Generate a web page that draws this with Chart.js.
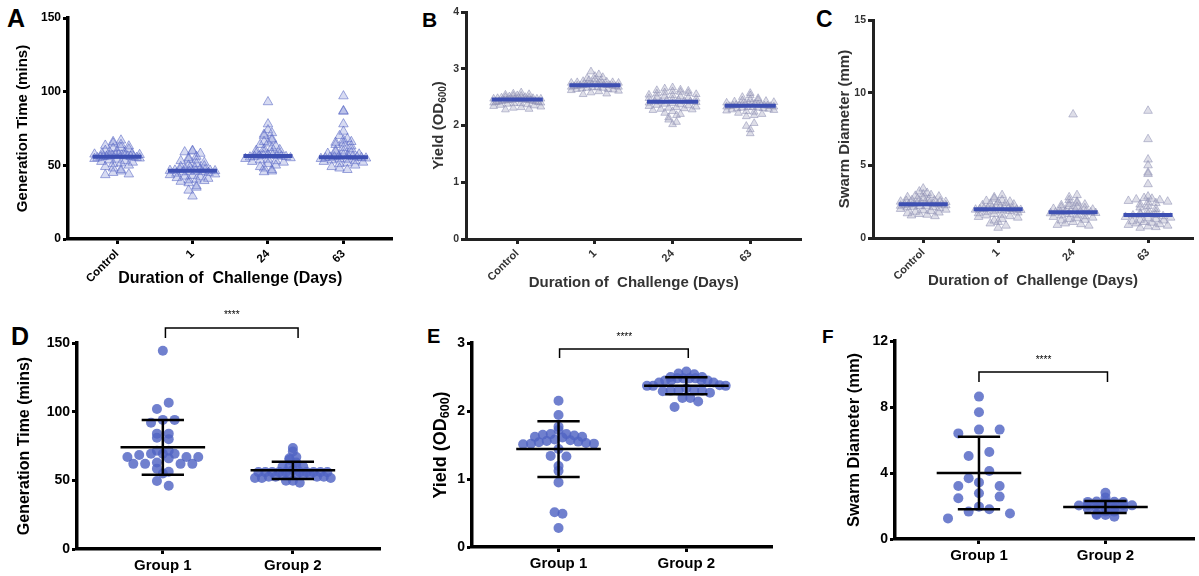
<!DOCTYPE html>
<html><head><meta charset="utf-8">
<script src="https://cdn.jsdelivr.net/npm/chart.js@4.4.1/dist/chart.umd.min.js"></script>
<style>
html,body{margin:0;padding:0;background:#fff;}
body{width:1199px;height:576px;position:relative;overflow:hidden;font-family:"Liberation Sans",Arial,sans-serif;}
canvas{position:absolute;}
.lt{position:absolute;font-weight:bold;line-height:1;color:#000;font-family:"Liberation Sans",Arial,sans-serif;}
</style></head><body>
<div class="lt" style="left:7px;top:6px;font-size:25px">A</div>
<div class="lt" style="left:422px;top:9px;font-size:21px">B</div>
<div class="lt" style="left:816px;top:8px;font-size:23px">C</div>
<div class="lt" style="left:11px;top:324px;font-size:25px">D</div>
<div class="lt" style="left:427px;top:326px;font-size:20px">E</div>
<div class="lt" style="left:822px;top:327px;font-size:19px">F</div>
<canvas id="cA"></canvas><canvas id="cB"></canvas><canvas id="cC"></canvas>
<canvas id="cD"></canvas><canvas id="cE"></canvas><canvas id="cF"></canvas>
<script>
// ---------------- DATA ----------------
const dayLabels = ['Control', '1', '24', '63'];
const groupLabels = ['Group 1', 'Group 2'];

// Panel A: generation time (mins)
const genTimeControl = [67,66,65,64,63.5,63,62,61.5,61,60,59.5,59,58.5,58,57.8,57.5,57.2,57,56.9,56.8,56.6,56.5,56.4,56.2,56,55.9,55.8,55.6,55.5,55.2,55,54.8,54.5,54,53.5,53,52.5,52,51.5,51,50,49,48,47,46,45,44,43.5];
const genTimeDay1 = [60,59.5,59,58,56,55,54,53.5,53,52,51,50,49.5,49,48.5,48,47.5,47.2,47,46.8,46.6,46.5,46.4,46.2,46,45.8,45.6,45.4,45,44.5,44,43.5,43,42.5,42,41.5,41,40.5,40,39.5,39,38,36,35,33,29];
const genTimeDay24 = [93,78,74,72,71,70,68,67,66,65,64,63,62,61,60.5,60,59,58.5,58,57.5,57,56.8,56.6,56.4,56.3,56.2,56,55.8,55.5,55,54.5,54,53.5,53,52.5,52,51,50,49,48,47,46,45.5];
const genTimeDay63 = [97,87,86.5,78,73,70,68,67,66,65.5,65,64,63,62,61,60,59.5,59,58.5,58,57.5,57,56.5,56,55.8,55.6,55.5,55.4,55.2,55,54.8,54.5,54.2,54,53.5,53,52.5,52,51.5,51,50,49,48,47];
const genTimeMedians = [55.9, 46.4, 56.3, 55.5];

// Panel B: yield (OD600)
const yieldControl = [2.58,2.56,2.55,2.54,2.53,2.52,2.52,2.51,2.50,2.50,2.49,2.49,2.48,2.48,2.47,2.47,2.47,2.46,2.46,2.46,2.46,2.45,2.45,2.45,2.45,2.44,2.44,2.44,2.43,2.43,2.42,2.42,2.41,2.41,2.40,2.40,2.39,2.39,2.38,2.37,2.36,2.35,2.34,2.33,2.32,2.31,2.29,2.28];
const yieldDay1 = [2.95,2.90,2.87,2.85,2.83,2.81,2.80,2.79,2.78,2.77,2.76,2.76,2.75,2.75,2.74,2.74,2.73,2.73,2.72,2.72,2.72,2.71,2.71,2.71,2.70,2.70,2.70,2.69,2.69,2.68,2.68,2.67,2.67,2.66,2.66,2.65,2.64,2.64,2.63,2.62,2.61,2.60,2.58,2.56,2.55];
const yieldDay24 = [2.67,2.65,2.63,2.62,2.61,2.60,2.59,2.58,2.57,2.56,2.55,2.54,2.53,2.52,2.51,2.50,2.49,2.48,2.47,2.46,2.45,2.44,2.43,2.42,2.42,2.42,2.41,2.40,2.39,2.38,2.37,2.36,2.35,2.34,2.33,2.32,2.31,2.30,2.29,2.28,2.27,2.25,2.22,2.20,2.18,2.14,2.10,2.06,2.02];
const yieldDay63 = [2.57,2.53,2.50,2.48,2.46,2.45,2.44,2.43,2.42,2.41,2.40,2.39,2.39,2.38,2.38,2.37,2.37,2.36,2.36,2.36,2.35,2.35,2.35,2.34,2.34,2.33,2.33,2.32,2.32,2.31,2.31,2.30,2.30,2.29,2.28,2.27,2.26,2.25,2.24,2.22,2.20,2.18,2.16,2.04,1.99,1.93,1.86];
const yieldMedians = [2.46, 2.71, 2.42, 2.35];

// Panel C: swarm diameter (mm)
const swarmControl = [3.4,3.2,3.1,3.0,2.95,2.9,2.85,2.8,2.75,2.7,2.65,2.6,2.58,2.55,2.52,2.5,2.48,2.45,2.42,2.4,2.38,2.35,2.33,2.32,2.31,2.3,2.28,2.25,2.22,2.2,2.18,2.15,2.12,2.1,2.05,2.0,1.95,1.9,1.85,1.8,1.75,1.7,1.65,1.6,1.55,1.5];
const swarmDay1 = [2.95,2.8,2.7,2.6,2.55,2.5,2.45,2.4,2.35,2.3,2.25,2.2,2.15,2.1,2.08,2.05,2.02,2.0,1.98,1.97,1.96,1.95,1.93,1.9,1.88,1.85,1.8,1.75,1.7,1.65,1.6,1.55,1.5,1.45,1.4,1.3,1.2,1.1,1.0,0.85,0.7];
const swarmDay24 = [8.5,2.95,2.8,2.6,2.5,2.4,2.35,2.3,2.25,2.2,2.15,2.1,2.05,2.0,1.95,1.9,1.85,1.82,1.8,1.78,1.77,1.76,1.75,1.72,1.7,1.65,1.6,1.55,1.5,1.45,1.4,1.35,1.3,1.25,1.2,1.1,1.0,0.95,0.9,0.85];
const swarmDay63 = [8.75,6.8,5.4,5.0,4.5,4.4,3.7,2.85,2.75,2.7,2.65,2.6,2.55,2.5,2.45,2.4,2.3,2.2,2.1,2.0,1.9,1.8,1.7,1.65,1.6,1.58,1.55,1.5,1.45,1.4,1.35,1.3,1.25,1.2,1.15,1.1,1.05,1.0,0.95,0.9,0.85,0.8,0.75,0.7];
const swarmMedians = [2.32, 1.97, 1.77, 1.58];

// Panel D: generation time by group
const genTimeGroup1 = [144.4,106.5,102,94,94,92,84,84,81,80,71.6,71.6,69.4,69.4,69.4,68.5,67,67,67,66,63,62,62,62,62,58.5,56.3,55,49.5,46];
const genTimeGroup2 = [73.5,71,67,66,65,63,60,60,60,60,57.5,56,56,56,56,56,56,56,56,56,56,54,54,54,54,54,52.6,52.6,52.6,52.6,51.7,51.7,51.7,49.7,49.7,48.3];
const genTimeMeans = [74, 57.3];
const genTimeSDs = [20, 6.3];

// Panel E: yield by group
const yieldGroup1 = [2.15,1.94,1.77,1.72,1.66,1.66,1.65,1.64,1.62,1.62,1.61,1.58,1.57,1.56,1.55,1.54,1.53,1.52,1.52,1.51,1.44,1.34,1.33,1.19,1.12,0.95,0.51,0.49,0.28];
const yieldGroup2 = [2.58,2.55,2.54,2.50,2.50,2.48,2.48,2.48,2.48,2.45,2.45,2.45,2.45,2.42,2.42,2.38,2.37,2.37,2.37,2.33,2.30,2.30,2.30,2.30,2.29,2.27,2.19,2.19,2.14,2.06];
const yieldMeans = [1.44, 2.37];
const yieldSDs = [0.41, 0.125];

// Panel F: swarm diameter by group
const swarmGroup1 = [8.63,7.68,6.63,6.63,6.4,5.27,5.03,4.12,3.68,3.43,3.21,3.21,2.77,2.57,2.47,1.96,1.8,1.66,1.55,1.25];
const swarmGroup2 = [2.8,2.52,2.28,2.26,2.25,2.27,2.24,2.08,2.06,2.05,2.07,2.04,2.06,2.03,1.88,1.86,1.85,1.87,1.84,1.66,1.66,1.52,1.45,1.45,1.35];
const swarmMeans = [4.0, 1.94];
const swarmSDs = [2.2, 0.37];

// ---------------- LAYOUT / STYLE ----------------
const FONT = '"Liberation Sans", Arial, sans-serif';
const layouts = {
  A: {left:0, top:0, w:399, h:292, axisX:68, topY:18, zeroY:239, xMin:-0.65, xMax:3.65},
  B: {left:400, top:0, w:407, h:295, axisX:466, topY:12, zeroY:239, xMin:-0.66, xMax:3.66},
  C: {left:800, top:0, w:399, h:294, axisX:873, topY:20, zeroY:238, xMin:-0.67, xMax:3.6},
  D: {left:0, top:300, w:385, h:276, axisX:77, topY:343, zeroY:549, xMin:-0.66, xMax:1.67},
  E: {left:400, top:300, w:377, h:276, axisX:472, topY:343, zeroY:547, xMin:-0.677, xMax:1.67},
  F: {left:800, top:300, w:399, h:276, axisX:895, topY:341, zeroY:539, xMin:-0.664, xMax:1.70}
};
const pick = (v, i) => Array.isArray(v) ? v[i] : v;

// GraphPad-like column scatter: points binned into rows, spread side by side
function rowOffsets(values, pyu, pxu, binPx, spacePx, maxHalf) {
  const offs = new Array(values.length).fill(0);
  const bins = {};
  values.forEach((v, i) => { const b = Math.floor(v * pyu / binPx); (bins[b] = bins[b] || []).push(i); });
  Object.keys(bins).forEach(key => {
    const idx = bins[key];
    idx.sort((a, b) => values[b] - values[a]);
    const n = idx.length;
    const sp = n > 1 ? Math.min(spacePx, 2 * maxHalf / (n - 1)) : 0;
    const slots = [];
    for (let j = 0; j < n; j++) slots.push((j - (n - 1) / 2) * sp);
    const flip = (+key) % 2 ? 1 : -1;
    slots.sort((a, b) => Math.abs(a) - Math.abs(b) || (a - b) * flip);
    idx.forEach((pi, k) => { offs[pi] = slots[k] / pxu; });
  });
  return offs;
}

const subTitlePlugin = {
  id: 'subTitle',
  afterDraw(chart, args, o) {
    if (!o || !o.main) return;
    const s = chart.scales.y, ctx = chart.ctx;
    const x = s.left + o.cx, y = (s.top + s.bottom) / 2;
    ctx.save();
    ctx.translate(x, y); ctx.rotate(-Math.PI / 2);
    ctx.fillStyle = o.color; ctx.textBaseline = 'middle'; ctx.textAlign = 'left';
    const fM = `bold ${o.size}px ${FONT}`, fS = `bold ${o.subSize}px ${FONT}`;
    ctx.font = fM; const w1 = ctx.measureText(o.main).width, w3 = ctx.measureText(o.tail).width;
    ctx.font = fS; const w2 = ctx.measureText(o.sub).width;
    let px = -(w1 + w2 + w3) / 2;
    ctx.font = fM; ctx.fillText(o.main, px, 0); px += w1;
    ctx.font = fS; ctx.fillText(o.sub, px, o.subShift); px += w2;
    ctx.font = fM; ctx.fillText(o.tail, px, 0);
    ctx.restore();
  }
};
const starsPlugin = {
  id: 'stars',
  afterDraw(chart, args, o) {
    if (!o || !o.text) return;
    const ctx = chart.ctx;
    ctx.save();
    ctx.font = `${o.size}px ${FONT}`; ctx.fillStyle = '#000';
    ctx.textAlign = 'center'; ctx.textBaseline = 'middle';
    ctx.fillText(o.text, chart.scales.x.getPixelForValue(o.x), chart.scales.y.getPixelForValue(o.y));
    ctx.restore();
  }
};

function makePanel(id, L, cfg) {
  const cv = document.getElementById(id);
  cv.width = L.w; cv.height = L.h;
  cv.style.left = L.left + 'px'; cv.style.top = L.top + 'px';
  const pyu = (L.zeroY - L.topY) / cfg.yMax;
  const pxu = (L.left + L.w - L.axisX) / (L.xMax - L.xMin);
  const datasets = [];
  cfg.lines(pxu).forEach(seg => datasets.push({
    data: seg.pts, showLine: true, pointRadius: 0, borderColor: seg.color, borderWidth: seg.width,
    tension: 0, clip: seg.noclip ? false : undefined, borderCapStyle: 'butt'
  }));
  cfg.groups.forEach((vals, gi) => {
    const offs = rowOffsets(vals, pyu, pxu, pick(cfg.binPx, gi), pick(cfg.spacePx, gi), pick(cfg.maxHalf, gi));
    datasets.push({
      data: vals.map((v, i) => ({x: gi + offs[i], y: v})),
      pointStyle: cfg.pointStyle, pointRadius: cfg.radius, pointBackgroundColor: cfg.fill,
      pointBorderColor: cfg.stroke, pointBorderWidth: cfg.strokeW, showLine: false
    });
  });
  const cats = cfg.cats;
  const tickFont = (s) => ({family: FONT, size: s, weight: 'bold'});
  return new Chart(cv, {
    type: 'scatter',
    data: {datasets},
    plugins: [subTitlePlugin, starsPlugin],
    options: {
      responsive: false, animation: false, devicePixelRatio: 1,
      layout: {padding: {top: L.topY - L.top, left: 0, right: 0, bottom: 0}},
      plugins: {legend: {display: false}, tooltip: {enabled: false},
        subTitle: cfg.subTitle || {}, stars: cfg.stars || {}},
      scales: {
        x: {
          type: 'linear', min: L.xMin, max: L.xMax,
          afterBuildTicks: s => { s.ticks = cats.map((c, i) => ({value: i})); },
          afterFit: s => { s.height = L.top + L.h - L.zeroY; },
          ticks: {callback: v => cats[v], font: tickFont(cfg.xTickSize), color: cfg.textColor,
                  minRotation: cfg.rot, maxRotation: cfg.rot, autoSkip: false, padding: cfg.xTickPad},
          grid: {display: true, drawOnChartArea: false, drawTicks: true, tickLength: 5, tickWidth: 3, tickColor: cfg.axisColor},
          border: {display: true, width: cfg.axisW, color: cfg.axisColor},
          title: {display: !!cfg.xTitle, text: cfg.xTitle, color: cfg.textColor,
                  font: {family: FONT, size: cfg.xTitleSize, weight: 'bold'}, padding: {top: 0, bottom: cfg.xTitlePad}}
        },
        y: {
          min: 0, max: cfg.yMax,
          afterFit: s => { s.width = L.axisX - L.left; },
          ticks: {stepSize: cfg.yStep, font: tickFont(cfg.yTickSize), color: cfg.textColor, padding: 2},
          grid: {display: true, drawOnChartArea: false, drawTicks: true, tickLength: 5, tickWidth: 3, tickColor: cfg.axisColor},
          border: {display: true, width: cfg.axisW, color: cfg.axisColor},
          title: {display: !!cfg.yTitle, text: cfg.yTitle, color: cfg.textColor,
                  font: {family: FONT, size: cfg.yTitleSize, weight: 'bold'}, padding: {top: cfg.yTitlePad, bottom: 0}}
        }
      }
    }
  });
}

function medianSegs(meds, halfPx) {
  return pxu => meds.map((m, i) => ({pts: [{x: i - halfPx / pxu, y: m}, {x: i + halfPx / pxu, y: m}], color: '#3d4fb2', width: 4}));
}
function errorSegs(means, sds, sig) {
  return pxu => {
    const segs = [];
    means.forEach((m, i) => {
      const hm = 43 / pxu, hc = 21.5 / pxu;
      segs.push({pts: [{x: i - hm, y: m}, {x: i + hm, y: m}], color: '#000', width: 2.5});
      segs.push({pts: [{x: i - hc, y: m + sds[i]}, {x: i + hc, y: m + sds[i]}], color: '#000', width: 2.5});
      segs.push({pts: [{x: i - hc, y: m - sds[i]}, {x: i + hc, y: m - sds[i]}], color: '#000', width: 2.5});
      segs.push({pts: [{x: i, y: m - sds[i]}, {x: i, y: m + sds[i]}], color: '#000', width: 2.5});
    });
    segs.push({pts: [{x: sig.x0, y: sig.legY}, {x: sig.x0, y: sig.barY}, {x: sig.x1, y: sig.barY}, {x: sig.x1, y: sig.legY}],
               color: '#000', width: 1.5, noclip: true});
    return segs;
  };
}

const topCommon = {cats: dayLabels, pointStyle: 'triangle', rot: 45, xTickPad: 3, strokeW: 1, binPx: 4, spacePx: 8};
makePanel('cA', layouts.A, Object.assign({}, topCommon, {
  groups: [genTimeControl, genTimeDay1, genTimeDay24, genTimeDay63], lines: medianSegs(genTimeMedians, 25),
  yMax: 150, yStep: 50, radius: 5.5, maxHalf: 23,
  fill: 'rgba(135,145,215,0.33)', stroke: 'rgba(85,100,195,0.55)',
  axisColor: '#000', axisW: 3.5, textColor: '#000', xTickSize: 11.5, yTickSize: 12,
  xTitle: 'Duration of  Challenge (Days)', xTitleSize: 16, xTitlePad: 3.4,
  yTitle: 'Generation Time (mins)', yTitleSize: 15, yTitlePad: 14
}));
makePanel('cB', layouts.B, Object.assign({}, topCommon, {
  groups: [yieldControl, yieldDay1, yieldDay24, yieldDay63], lines: medianSegs(yieldMedians, 26),
  yMax: 4, yStep: 1, radius: 4.5, maxHalf: 24,
  fill: 'rgba(155,155,185,0.33)', stroke: 'rgba(135,138,175,0.5)',
  axisColor: '#222', axisW: 3, textColor: '#333', xTickSize: 11, yTickSize: 10.5,
  xTitle: 'Duration of  Challenge (Days)', xTitleSize: 15, xTitlePad: 3,
  subTitle: {main: 'Yield (OD', sub: '600', tail: ')', size: 15, subSize: 10, subShift: 4, cx: 39, color: '#333'}
}));
makePanel('cC', layouts.C, Object.assign({}, topCommon, {
  groups: [swarmControl, swarmDay1, swarmDay24, swarmDay63], lines: medianSegs(swarmMedians, 25),
  yMax: 15, yStep: 5, radius: 5, maxHalf: 23,
  fill: 'rgba(155,155,185,0.33)', stroke: 'rgba(135,138,175,0.5)',
  axisColor: '#222', axisW: 3, textColor: '#333', xTickSize: 11, yTickSize: 10.5,
  xTitle: 'Duration of  Challenge (Days)', xTitleSize: 15, xTitlePad: 4,
  yTitle: 'Swarm Diameter (mm)', yTitleSize: 15, yTitlePad: 36
}));
const botCommon = {cats: groupLabels, pointStyle: 'circle', rot: 0, xTickPad: 3, radius: 5, strokeW: 0,
  fill: 'rgba(80,100,195,0.82)', stroke: 'rgba(80,100,195,0.82)', axisColor: '#000', axisW: 3.5, textColor: '#000',
  xTickSize: 15, yTickSize: 14};
makePanel('cD', layouts.D, Object.assign({}, botCommon, {
  groups: [genTimeGroup1, genTimeGroup2],
  lines: errorSegs(genTimeMeans, genTimeSDs, {x0: 0.02, x1: 1.04, barY: 161, legY: 153.7}),
  yMax: 150, yStep: 50, maxHalf: 44, binPx: [7, 5], spacePx: [12, 7],
  yTitle: 'Generation Time (mins)', yTitleSize: 16, yTitlePad: 15.4,
  stars: {text: '****', x: 0.53, y: 170.4, size: 10}
}));
makePanel('cE', layouts.E, Object.assign({}, botCommon, {
  groups: [yieldGroup1, yieldGroup2],
  lines: errorSegs(yieldMeans, yieldSDs, {x0: 0.008, x1: 1.015, barY: 2.91, legY: 2.78}),
  yMax: 3, yStep: 1, maxHalf: 40, binPx: 10, spacePx: 8,
  subTitle: {main: 'Yield (OD', sub: '600', tail: ')', size: 18, subSize: 12.5, subShift: 5, cx: 41, color: '#000'},
  stars: {text: '****', x: 0.515, y: 3.09, size: 10}
}));
makePanel('cF', layouts.F, Object.assign({}, botCommon, {
  groups: [swarmGroup1, swarmGroup2],
  lines: errorSegs(swarmMeans, swarmSDs, {x0: 0, x1: 1.016, barY: 10.12, legY: 9.52}),
  yMax: 12, yStep: 4, maxHalf: 38, binPx: [10, 4], spacePx: [21, 9],
  yTitle: 'Swarm Diameter (mm)', yTitleSize: 16.5, yTitlePad: 45,
  stars: {text: '****', x: 0.51, y: 10.85, size: 10}
}));
</script>
</body></html>
